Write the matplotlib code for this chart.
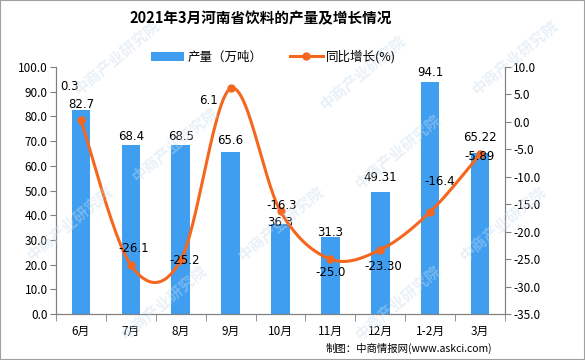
import numpy as np
from matplotlib import pyplot as plt
from matplotlib.patches import Rectangle

plt.rcParams['font.family'] = ['Noto Sans CJK SC', 'DejaVu Sans']
plt.rcParams['axes.unicode_minus'] = False

months = ['6月', '7月', '8月', '9月', '10月', '11月', '12月', '1-2月', '3月']
output = [82.7, 68.4, 68.5, 65.6, 36.3, 31.3, 49.31, 94.1, 65.22]
output_lbl = ['82.7', '68.4', '68.5', '65.6', '36.3', '31.3', '49.31', '94.1', '65.22']
growth = [0.3, -26.1, -25.2, 6.1, -16.3, -25.0, -23.30, -16.4, -5.89]
growth_lbl = ['0.3', '-26.1', '-25.2', '6.1', '-16.3', '-25.0', '-23.30', '-16.4', '-5.89']

BAR = '#409EF0'
LINE = '#F5661E'
GREY = '#808080'


def smooth(x, y, n=30):
    # excel style smoothed line (bezier through the points)
    x = np.asarray(x, float)
    y = np.asarray(y, float)
    px, py = [], []
    m = len(x)
    for i in range(m - 1):
        x0, y0 = (x[i - 1], y[i - 1]) if i > 0 else (x[i], y[i])
        x3, y3 = (x[i + 2], y[i + 2]) if i + 2 < m else (x[i + 1], y[i + 1])
        c1x = x[i] + (x[i + 1] - x0) / 6
        c1y = y[i] + (y[i + 1] - y0) / 6
        c2x = x[i + 1] - (x3 - x[i]) / 6
        c2y = y[i + 1] - (y3 - y[i]) / 6
        t = np.linspace(0, 1, n)
        b0, b1, b2, b3 = (1 - t) ** 3, 3 * t * (1 - t) ** 2, 3 * t ** 2 * (1 - t), t ** 3
        px.extend(b0 * x[i] + b1 * c1x + b2 * c2x + b3 * x[i + 1])
        py.extend(b0 * y[i] + b1 * c1y + b2 * c2y + b3 * y[i + 1])
    return np.array(px), np.array(py)


fig = plt.figure(figsize=(5.85, 3.6), dpi=100)

# watermarks first, behind everything
for wx, wy in [(0.2, 0.84), (0.62, 0.8), (0.88, 0.84), (0.3, 0.6), (0.68, 0.58),
               (0.12, 0.38), (0.48, 0.38), (0.86, 0.38), (0.28, 0.16), (0.68, 0.16)]:
    fig.text(wx, wy, '中商产业研究院', rotation=40, ha='center', va='center',
             fontsize=11, fontweight='bold', color='#C8DDEE', alpha=0.4, zorder=0)

ax = fig.add_axes([56 / 585, 46 / 360, 449 / 585, 247 / 360])
ax.patch.set_alpha(0)
ax2 = ax.twinx()

xs = np.arange(len(months))
ax.bar(xs, output, width=0.37, color=BAR, zorder=2, label='产量（万吨）')
ax.set_xlim(-0.5, len(months) - 0.5)
ax.set_ylim(0, 100)
ax.set_yticks(np.arange(0, 101, 10))
ax.set_yticklabels(['%.1f' % v for v in np.arange(0, 101, 10)])
ax.set_xticks(xs)
ax.set_xticklabels(months)
ax.set_xticks(np.arange(len(months) + 1) - 0.5, minor=True)
ax.tick_params(axis='x', which='major', length=0, pad=8, labelsize=8.5)
ax.tick_params(axis='x', which='minor', length=5, color=GREY, direction='out')
ax.tick_params(axis='y', length=4, color=GREY, labelsize=8.5, pad=2)

# vertical offsets (points) of the bar value labels
bar_dy = [-1, 1.5, 1.5, 3.5, -3, -2, 6, 2, 6.5]
for xv, v, s, dy in zip(xs, output, output_lbl, bar_dy):
    ax.annotate(s, (xv, v), xytext=(0, dy), textcoords='offset points',
                ha='center', va='bottom', fontsize=8.5, family='DejaVu Sans')

lx, ly = smooth(xs, growth)
ax2.plot(lx, ly, color=LINE, lw=2.2, zorder=3)
ax2.plot(xs, growth, 'o', color=LINE, ms=5, zorder=4)
ax2.plot([], [], '-o', color=LINE, lw=2.2, ms=5, label='同比增长(%)')
ax2.set_ylim(-35, 10)
ax2.set_yticks(np.arange(-35, 11, 5))
ax2.set_yticklabels(['%.1f' % v for v in np.arange(-35, 11, 5)])
ax2.tick_params(axis='y', length=4, color=GREY, labelsize=8.5, pad=2)

# label offsets (points) for the growth values
offs = [(-8, 24), (2, 12), (3, 0), (-16, -9), (1, 4), (0, -10), (2, -12), (7, 22), (0, -2)]
for xv, v, s, (dx, dy) in zip(xs, growth, growth_lbl, offs):
    ax2.annotate(s, (xv, v), xytext=(dx, dy), textcoords='offset points',
                 ha='center', va='center', fontsize=8.5, family='DejaVu Sans', zorder=5)

for a in (ax, ax2):
    a.spines['top'].set_visible(False)
    for k in ('left', 'right', 'bottom'):
        a.spines[k].set_color(GREY)

h1, l1 = ax.get_legend_handles_labels()
h2, l2 = ax2.get_legend_handles_labels()
fig.legend(h1 + h2, l1 + l2, loc='center', bbox_to_anchor=(0.468, 0.842), ncol=2,
           frameon=False, fontsize=9, handlelength=2.6, columnspacing=2.2, handletextpad=0.3)

fig.text(0.446, 0.95, '2021年3月河南省饮料的产量及增长情况', ha='center', va='center',
         fontsize=10.5, fontweight='bold')
fig.text(0.556, 0.033, '制图：中商情报网(www.askci.com)', ha='left', va='center', fontsize=7.5)

fig.patches.append(Rectangle((0, 0), 1, 1, transform=fig.transFigure, fill=False,
                             edgecolor='#A0A0A0', lw=1.5))

fig.savefig('out.png', dpi=100)
